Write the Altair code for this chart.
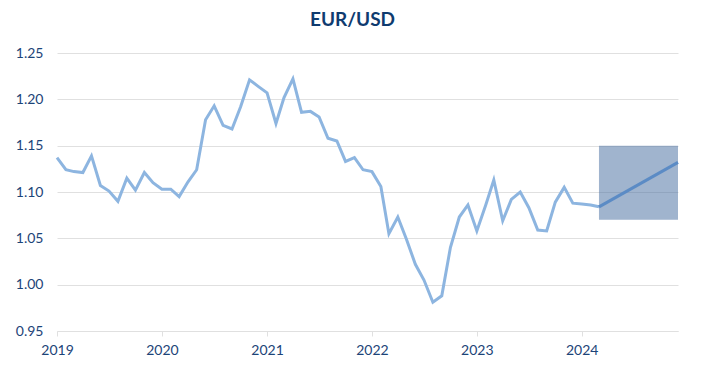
import altair as alt
import pandas as pd

# Historical monthly EUR/USD (Jan 2019 - Mar 2024)
hist_start = "2019-01-01"
hist_values = [
    1.137, 1.124, 1.122, 1.121, 1.139, 1.107, 1.101, 1.090, 1.115, 1.102, 1.121, 1.110,
    1.103, 1.103, 1.095, 1.111, 1.124, 1.178, 1.193, 1.172, 1.168, 1.192, 1.221, 1.214,
    1.207, 1.174, 1.202, 1.222, 1.186, 1.187, 1.181, 1.158, 1.155, 1.133, 1.137, 1.124,
    1.122, 1.106, 1.055, 1.073, 1.049, 1.022, 1.005, 0.981, 0.988, 1.040, 1.073, 1.086,
    1.058, 1.086, 1.113, 1.069, 1.092, 1.100, 1.083, 1.059, 1.058, 1.089, 1.105, 1.088,
    1.087, 1.086, 1.084,
]
hist_dates = pd.date_range(hist_start, periods=len(hist_values), freq="MS")

# Forecast line and range band
fc_dates = ["2024-03-01", "2024-12-01"]
fc_values = [1.084, 1.132]
band_x = ["2024-03-01"]
band_x2 = ["2024-12-01"]
band_low = [1.07]
band_high = [1.15]

year_ticks = ["2019-01-01", "2020-01-01", "2021-01-01", "2022-01-01", "2023-01-01", "2024-01-01"]

hist_df = pd.DataFrame({"date": hist_dates, "value": hist_values})
fc_df = pd.DataFrame({"date": pd.to_datetime(fc_dates), "value": fc_values})
band_df = pd.DataFrame({"x": pd.to_datetime(band_x), "x2": pd.to_datetime(band_x2),
                        "lo": band_low, "hi": band_high})

label_color = "#1c4478"
font = "Lato"

x_scale = alt.Scale(domain=[pd.Timestamp("2019-01-01").isoformat(), pd.Timestamp("2024-12-01").isoformat()])
y_scale = alt.Scale(domain=[0.95, 1.25], nice=False, zero=False)

x_axis = alt.Axis(
    title=None, values=[pd.Timestamp(t).isoformat() for t in year_ticks], format="%Y",
    grid=False, domain=True, domainColor="#e0e0e0", tickColor="#e0e0e0", tickSize=5,
    labelFont=font, labelFontSize=14, labelColor=label_color, labelPadding=7,
    labelFlush=False,
)
y_axis = alt.Axis(
    title=None, values=[0.95, 1.0, 1.05, 1.1, 1.15, 1.2, 1.25], format=".2f",
    grid=True, gridColor="#e0e0e0", domain=False, ticks=False,
    labelFont=font, labelFontSize=14, labelColor=label_color, labelPadding=14,
)

hist = alt.Chart(hist_df).mark_line(color="#8db5e0", strokeWidth=3).encode(
    x=alt.X("date:T", scale=x_scale, axis=x_axis),
    y=alt.Y("value:Q", scale=y_scale, axis=y_axis),
)

band = alt.Chart(band_df).mark_rect(color="#42699e", opacity=0.5).encode(
    x=alt.X("x:T", scale=x_scale),
    x2="x2:T",
    y=alt.Y("lo:Q", scale=y_scale),
    y2="hi:Q",
)

fc = alt.Chart(fc_df).mark_line(color="#5b8bc5", strokeWidth=3).encode(
    x=alt.X("date:T", scale=x_scale),
    y=alt.Y("value:Q", scale=y_scale),
)

chart = alt.layer(hist, band, fc).properties(
    width=621, height=278,
    title=alt.TitleParams("EUR/USD", font=font, fontSize=19, fontWeight="bold",
                          color="#0f3b6f", anchor="middle", dx=-15, offset=16),
    autosize=alt.AutoSizeParams(type="none"),
    padding={"left": 49, "top": 45, "right": 10, "bottom": 30},
).configure_view(stroke=None)

chart.save("out.html", embed_options={"renderer": "svg", "actions": False})
